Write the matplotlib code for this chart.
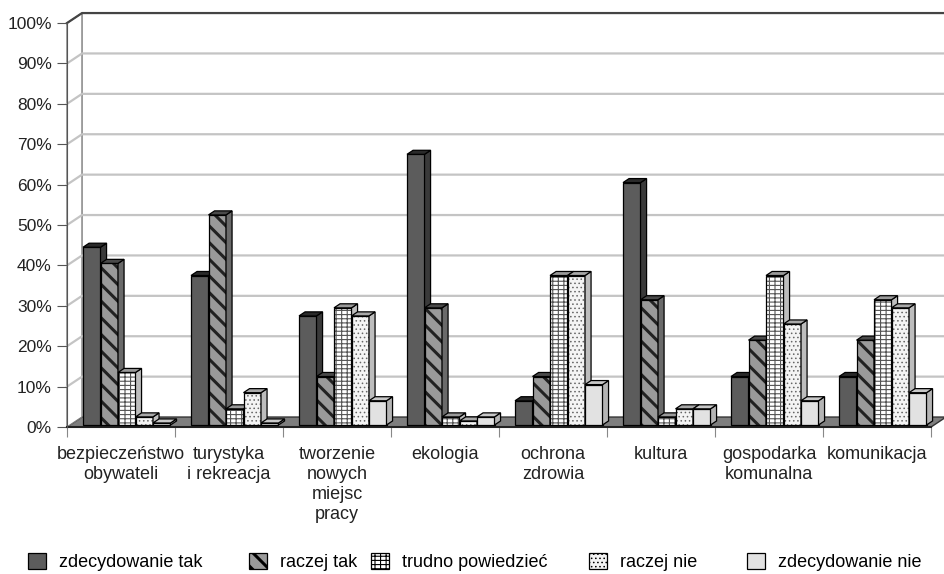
import numpy as np
import matplotlib.pyplot as plt
from matplotlib.patches import Polygon, Patch

plt.rcParams['font.family'] = ['Liberation Sans', 'DejaVu Sans']

categories = ['bezpieczeństwo\nobywateli', 'turystyka\ni rekreacja',
              'tworzenie\nnowych\nmiejsc\npracy', 'ekologia', 'ochrona\nzdrowia',
              'kultura', 'gospodarka\nkomunalna', 'komunikacja']
series = ['zdecydowanie tak', 'raczej tak', 'trudno powiedzieć', 'raczej nie', 'zdecydowanie nie']

zdecydowanie_tak = [44, 37, 27, 67, 6, 60, 12, 12]
raczej_tak = [40, 52, 12, 29, 12, 31, 21, 21]
trudno_powiedziec = [13, 4, 29, 2, 37, 2, 37, 31]
raczej_nie = [2, 8, 27, 1, 37, 4, 25, 29]
zdecydowanie_nie = [0.5, 0.5, 6, 2, 10, 4, 6, 8]

values = [zdecydowanie_tak, raczej_tak, trudno_powiedziec, raczej_nie, zdecydowanie_nie]

# styles: face, side, top, hatch, hatch colour, hatch linewidth
faces = ['#5c5c5c', '#9a9a9a', '#ffffff', '#f4f4f4', '#e2e2e2']
sides = ['#3a3a3a', '#6a6a6a', '#bdbdbd', '#bdbdbd', '#b4b4b4']
tops = ['#2a2a2a', '#4a4a4a', '#9a9a9a', '#a8a8a8', '#c8c8c8']
hatches = [None, '\\\\', '----|||', '....', None]
hatch_cols = ['black', '#222222', '#555555', '#666666', 'black']
hatch_lws = [1.0, 2.2, 0.8, 0.6, 1.0]

W = 0.162        # bar width (category units)
DX, DY = 0.056, 1.0   # bar depth
WX, WY = 0.139, 2.47  # wall depth
BASE = 0.5

fig = plt.figure(figsize=(9.45, 5.74), dpi=100)
ax = fig.add_axes([0.0595, 0.242, 0.9406, 0.739])
ax.set_xlim(-0.1, 8.13)
ax.set_ylim(-2, 103)

# floor, side wall, back wall grid
ax.add_patch(Polygon([(0, 0), (8, 0), (8 + WX, WY), (WX, WY)],
                     fc='#7e7e7e', ec='#333333', lw=1, zorder=1))
ax.add_patch(Polygon([(0, 0), (WX, WY), (WX, 100 + WY), (0, 100)],
                     fc='white', ec='#777777', lw=1, zorder=1))
for v in range(10, 100, 10):
    ax.plot([0, WX, 8 + WX], [v, v + WY, v + WY], color='#c4c4c4', lw=1.6, zorder=1)
ax.plot([0, WX, 8 + WX], [100, 100 + WY, 100 + WY], color='#444444', lw=1.6, zorder=1)

x = np.arange(len(categories))
for i, vals in enumerate(values):
    xs = x + 0.148 + i * W
    plt.rcParams['hatch.linewidth'] = hatch_lws[i]
    ax.bar(xs, vals, width=W, bottom=BASE, align='edge', color=faces[i],
           edgecolor=hatch_cols[i], hatch=hatches[i], lw=0, zorder=3 + i)
    ax.bar(xs, vals, width=W, bottom=BASE, align='edge', fill=False,
           edgecolor='black', lw=0.9, zorder=3 + i)
    for xx, h in zip(xs, vals):
        t = h + BASE
        side = [(xx + W, BASE), (xx + W + DX, BASE + DY), (xx + W + DX, t + DY), (xx + W, t)]
        top = [(xx, t), (xx + W, t), (xx + W + DX, t + DY), (xx + DX, t + DY)]
        ax.add_patch(Polygon(side, fc=sides[i], ec='black', lw=0.9, zorder=3 + i))
        ax.add_patch(Polygon(top, fc=tops[i], ec='black', lw=0.9, zorder=3 + i))

for s in ['top', 'right']:
    ax.spines[s].set_visible(False)
ax.spines['left'].set_position(('data', 0))
ax.spines['left'].set_bounds(0, 100)
ax.spines['left'].set_color('#555555')
ax.spines['bottom'].set_position(('data', 0))
ax.spines['bottom'].set_bounds(0, 8)
ax.spines['bottom'].set_color('#222222')
ax.spines['bottom'].set_linewidth(1.5)
ax.spines['bottom'].set_zorder(2)

ax.set_yticks(range(0, 101, 10))
ax.set_yticklabels([f'{v}%' for v in range(0, 101, 10)])
ax.tick_params(axis='y', length=7, pad=4, color='#555555', labelsize=12.5, labelcolor='#222222')

ax.set_xticks(range(0, 9))
ax.set_xticklabels([])
ax.set_xticks(x + 0.5, minor=True)
ax.set_xticklabels(categories, minor=True, linespacing=1.22)
ax.tick_params(axis='x', which='major', length=7, color='#888888')
ax.tick_params(axis='x', which='minor', length=0, pad=14, labelsize=13, labelcolor='#222222')

# legend entries placed along the bottom
leg_x = [28, 249, 371, 589, 747]
for i, name in enumerate(series):
    plt.rcParams['hatch.linewidth'] = hatch_lws[i]
    h = Patch(facecolor=faces[i], edgecolor='black', hatch=hatches[i], lw=0.9)
    fig.legend(handles=[h], labels=[name], loc='center left',
               bbox_to_anchor=(leg_x[i] / 945, 1 - 562 / 574), frameon=False,
               handlelength=1.0, handleheight=1.0, handletextpad=0.7,
               borderpad=0, borderaxespad=0, fontsize=13)

fig.savefig('out.png', dpi=100)
